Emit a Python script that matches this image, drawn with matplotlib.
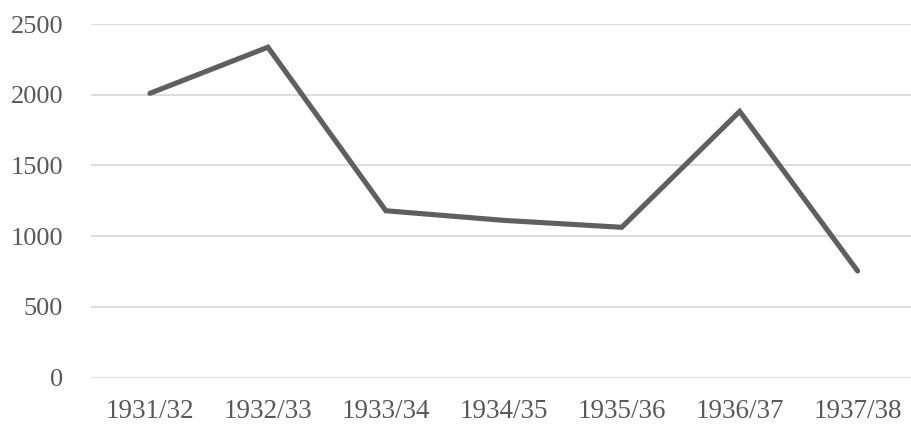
import matplotlib
matplotlib.use("Agg")
import matplotlib.pyplot as plt

categories = ["1931/32", "1932/33", "1933/34", "1934/35", "1935/36", "1936/37", "1937/38"]
values = [2010, 2336, 1180, 1112, 1063, 1882, 754]
yticks = [0, 500, 1000, 1500, 2000, 2500]

plt.rcParams['font.family'] = ['Liberation Serif', 'DejaVu Serif']

fig = plt.figure(figsize=(9.12, 4.24), dpi=100)
ax = fig.add_axes([91/912, 46.3/424, 825.6/912, 353.7/424])

x = list(range(len(categories)))
ax.plot(x, values, color="#5f5f5f", linewidth=3.7, solid_joinstyle="miter", solid_capstyle="round", zorder=3)

ax.set_xlim(-0.5, len(categories) - 0.5)
ax.set_ylim(0, 2500)
ax.set_yticks(yticks)
ax.set_yticklabels([str(v) for v in yticks])
ax.set_xticks(x)
ax.set_xticklabels(categories)

ax.grid(axis="y", color="#d9d9d9", linewidth=1.3)
ax.set_axisbelow(True)
for s in ax.spines.values():
    s.set_visible(False)
ax.tick_params(axis="both", length=0, labelsize=19, colors="#595959")
ax.tick_params(axis="x", labelsize=19.5)
ax.tick_params(axis="y", pad=20)
ax.tick_params(axis="x", pad=15)

fig.savefig("out.png", dpi=100)
